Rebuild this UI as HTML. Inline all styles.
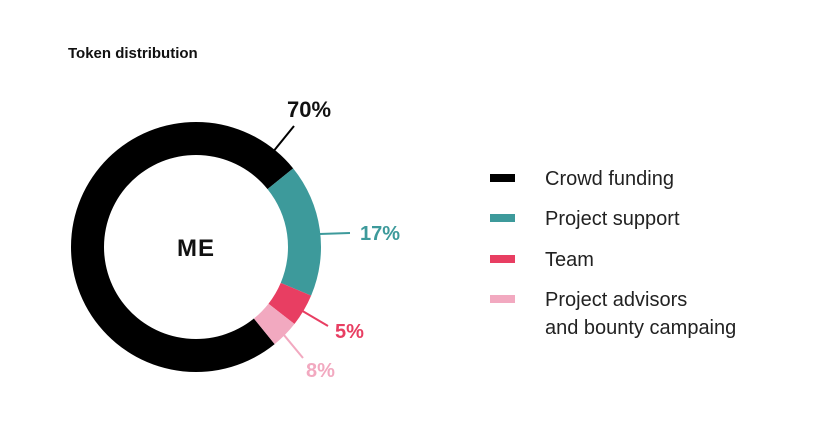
<!DOCTYPE html>
<html><head><meta charset="utf-8"><style>
html,body{margin:0;padding:0;background:#fff;width:820px;height:445px;overflow:hidden}
svg{display:block;font-family:"Liberation Sans","DejaVu Sans",sans-serif}
</style></head><body>
<svg id="chart" width="820" height="445">
<text x="68" y="58" font-size="15" font-weight="bold" fill="#111">Token distribution</text>
<g id="slices"></g>
<text x="196" y="256" text-anchor="middle" font-size="24" font-weight="bold" letter-spacing="1" fill="#111">ME</text>
<g id="labels"></g>
<g id="legend"></g>
</svg>
<script>
const categories = ["Crowd funding", "Project support", "Team", "Project advisors|and bounty campaing"];
const labelValues = [70, 17, 5, 8];
const arcShares = [75, 17.2, 4.2, 3.6];
const colors = ["#000000", "#3d9a9b", "#e83e62", "#f2a9c0"];
const startDeg = 141;
const cx = 196, cy = 247, R = 125, r = 92;
const NS = "http://www.w3.org/2000/svg";
function pt(deg, rad){const a=deg*Math.PI/180;return [cx+rad*Math.sin(a), cy-rad*Math.cos(a)];}
const total = arcShares.reduce((a,b)=>a+b,0);
const slices = document.getElementById('slices');
let cur = startDeg;
[0,1,2,3].forEach(i=>{
  const span = arcShares[i]/total*360;
  const a0=cur, a1=cur+span;
  const [x0,y0]=pt(a0,R),[x1,y1]=pt(a1,R),[x2,y2]=pt(a1,r),[x3,y3]=pt(a0,r);
  const large = span>180?1:0;
  const p=document.createElementNS(NS,'path');
  p.setAttribute('d',`M${x0},${y0}A${R},${R} 0 ${large} 1 ${x1},${y1}L${x2},${y2}A${r},${r} 0 ${large} 0 ${x3},${y3}Z`);
  p.setAttribute('fill',colors[i]);
  
  
  slices.appendChild(p);
  cur=a1;
});
const leaderAngles = [39, 84, 121, 135];
const leaderEnds = [[294,126],[350,233],[328,326],[303,358]];
const textPos = [[287,117,22],[360,240,20],[335,338,20],[306,377,20]];
const labels = document.getElementById('labels');
labelValues.forEach((v,i)=>{
  const [sx,sy]=pt(leaderAngles[i], i===0?R-2:R-1);
  const l=document.createElementNS(NS,'line');
  l.setAttribute('x1',sx);l.setAttribute('y1',sy);
  l.setAttribute('x2',leaderEnds[i][0]);l.setAttribute('y2',leaderEnds[i][1]);
  l.setAttribute('stroke',colors[i]);l.setAttribute('stroke-width','2');
  
  
  labels.appendChild(l);
  const t=document.createElementNS(NS,'text');
  t.setAttribute('x',textPos[i][0]);t.setAttribute('y',textPos[i][1]);
  t.setAttribute('font-size',textPos[i][2]);t.setAttribute('font-weight','bold');
  t.setAttribute('fill',i===0?'#111':colors[i]);
  t.textContent=v+'%';
  
  
  labels.appendChild(t);
});
const legend=document.getElementById('legend');
const rowY=[178,218,259,299];
categories.forEach((c,i)=>{
  const g=document.createElementNS(NS,'g');
  
  
  const s=document.createElementNS(NS,'rect');
  s.setAttribute('x',490);s.setAttribute('y',rowY[i]-4);s.setAttribute('width',25);s.setAttribute('height',8);
  s.setAttribute('fill',colors[i]);
  
  
  g.appendChild(s);
  c.split('|').forEach((line,k)=>{
    const t=document.createElementNS(NS,'text');
    t.setAttribute('x',545);t.setAttribute('y',rowY[i]+7+k*28);
    t.setAttribute('font-size',20);t.setAttribute('fill','#222');
    t.textContent=line;
    
    
    g.appendChild(t);
  });
  legend.appendChild(g);
});
</script>
</body></html>
